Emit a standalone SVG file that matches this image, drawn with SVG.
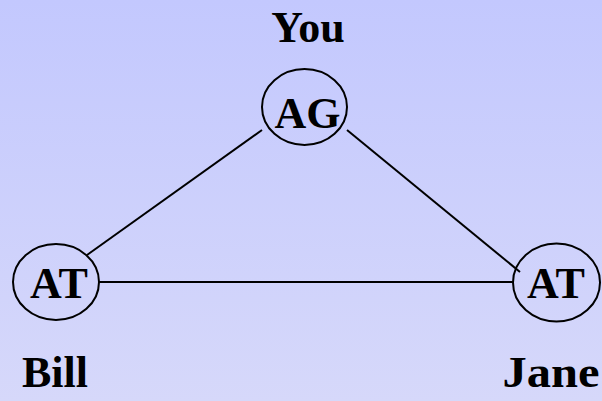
<svg xmlns="http://www.w3.org/2000/svg" width="602" height="401" viewBox="0 0 602 401">
<defs>
<linearGradient id="bg" x1="0" y1="0" x2="0" y2="1">
<stop offset="0" stop-color="#c3c8fe"/>
<stop offset="1" stop-color="#d6d8fa"/>
</linearGradient>
<style>
.n{fill:none;stroke:#000;stroke-width:2}
.e{stroke:#000;stroke-width:2;fill:none}
.t{font-family:"Liberation Serif","Times New Roman",serif;font-weight:bold;font-size:44px;fill:#000;text-anchor:middle}
</style>
</defs>
<rect width="602" height="401" fill="url(#bg)"/>
<g id="connectors">
<line class="e" x1="262" y1="130" x2="87" y2="255"/>
<line class="e" x1="347" y1="130" x2="520" y2="272"/>
<line class="e" x1="99" y1="282" x2="513" y2="282"/>
</g>
<g id="you">
<text class="t" x="308" y="42">You</text>
<ellipse class="n" cx="304.5" cy="107" rx="42.5" ry="38"/>
<text class="t" x="307.5" y="128">AG</text>
</g>
<g id="bill">
<ellipse class="n" cx="56" cy="282" rx="43" ry="38"/>
<text class="t" x="59" y="298">AT</text>
<text class="t" x="55" y="387">Bill</text>
</g>
<g id="jane">
<ellipse class="n" cx="556.5" cy="282.5" rx="43.5" ry="39"/>
<text class="t" x="556" y="298">AT</text>
<text class="t" x="551" y="387" textLength="97" lengthAdjust="spacingAndGlyphs">Jane</text>
</g>
</svg>
